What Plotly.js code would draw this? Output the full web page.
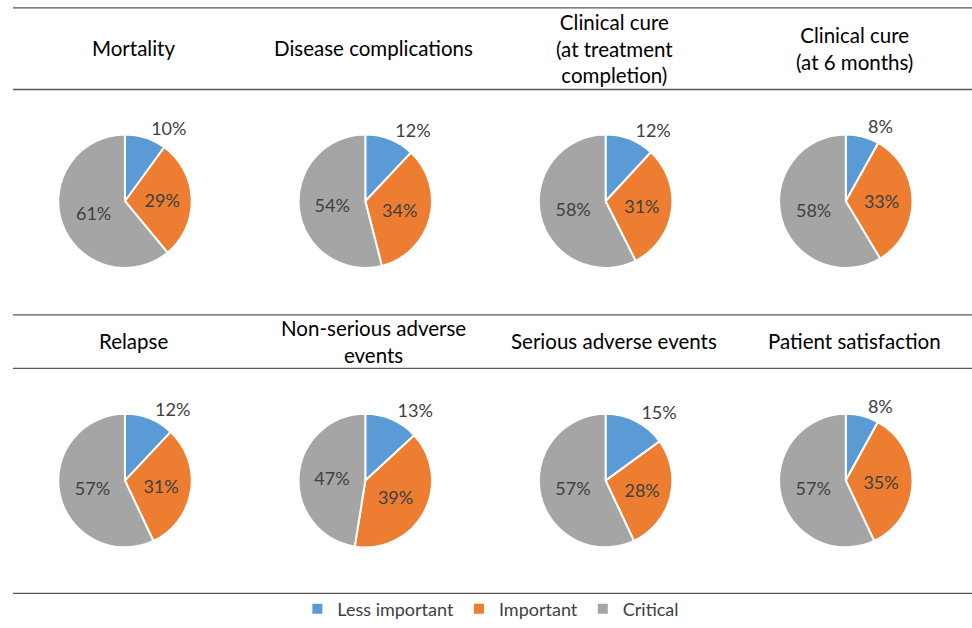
<!DOCTYPE html>
<html><head><meta charset="utf-8">
<script src="https://cdn.plot.ly/plotly-3.0.1.min.js"></script>
<style>html,body{margin:0;padding:0;background:#fff;}#chart{width:972px;height:628px;}</style>
</head><body><div id="chart"></div>
<script>
const categories = ['Less important', 'Important', 'Critical'];
const titles = ['Mortality', 'Disease complications', 'Clinical cure<br>(at treatment<br>completion)', 'Clinical cure<br>(at 6 months)',
                'Relapse', 'Non-serious adverse<br>events', 'Serious adverse events', 'Patient satisfaction'];
const lessImportant = [10, 12, 12, 8, 12, 13, 15, 8];
const important = [29, 34, 31, 33, 31, 39, 28, 35];
const critical = [61, 54, 58, 58, 57, 47, 57, 57];
const colors = ['#5B9BD5', '#ED7D31', '#A5A5A5'];

const W = 972, H = 628;
const colCenters = [125, 365.3, 605.6, 845.8];
const rowCenters = [203.5, 486];
const titleX = [133.5, 373.8, 614, 854.3];
const titleY = [49, 345];
const R = 67.5;

const data = [];
const annotations = [];
for (let i = 0; i < 8; i++) {
  const c = i % 4, r = Math.floor(i / 4);
  const cx = colCenters[c], cy = rowCenters[r];
  data.push({
    type: 'pie',
    labels: categories,
    values: [lessImportant[i], important[i], critical[i]],
    sort: false,
    direction: 'clockwise',
    rotation: 0,
    marker: {colors: colors, line: {color: '#ffffff', width: 2}},
    texttemplate: '%{value}%',
    textposition: ['outside', 'inside', 'inside'],
    insidetextorientation: 'horizontal',
    textfont: {family: 'Lato, sans-serif', size: 18, color: '#404040'},
    automargin: false,
    hoverinfo: 'label+value',
    showlegend: i === 0,
    domain: {x: [(cx - R) / W, (cx + R) / W], y: [(H - cy - R) / H, (H - cy + R) / H]}
  });
  annotations.push({
    text: titles[i], xref: 'paper', yref: 'paper',
    x: titleX[c] / W, y: (H - titleY[r]) / H, xanchor: 'center', yanchor: 'middle',
    showarrow: false, font: {family: 'Lato, sans-serif', size: 20.5, color: '#000000'}
  });
}
const lineYs = [8, 90.5, 318.5, 372.5, 600];
const shapes = lineYs.map(y => ({
  type: 'line', xref: 'paper', yref: 'paper', x0: 13 / W, x1: 1, y0: (H - y) / H, y1: (H - y) / H,
  line: {color: '#595959', width: 1.3}
}));

const layout = {
  width: W, height: H,
  margin: {l: 0, r: 0, t: 0, b: 0},
  paper_bgcolor: '#ffffff',
  font: {family: 'Lato, sans-serif'},
  showlegend: true,
  legend: {orientation: 'h', x: 0.505, xanchor: 'center', y: (H - 616) / H, yanchor: 'middle',
           bgcolor: 'rgba(0,0,0,0)',
           font: {family: 'Lato, sans-serif', size: 18, color: '#404040'}, itemwidth: 30, traceorder: 'normal'},
  annotations: annotations,
  shapes: shapes
};
Plotly.newPlot('chart', data, layout, {displayModeBar: false, staticPlot: true});
</script></body></html>
